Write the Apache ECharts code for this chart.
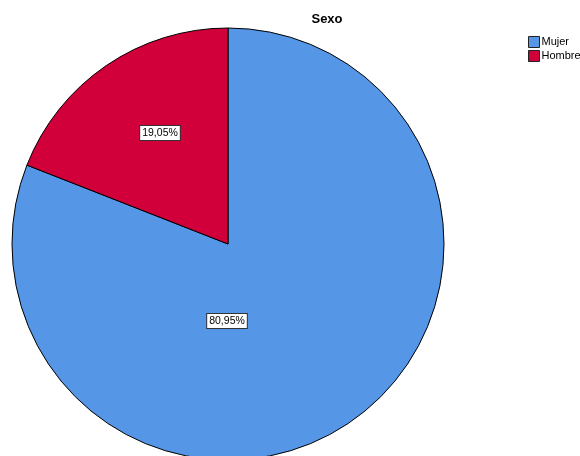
<!DOCTYPE html>
<html>
<head>
<meta charset="utf-8">
<script src="https://cdn.jsdelivr.net/npm/echarts@6/dist/echarts.min.js"></script>
<style>
  html, body { margin: 0; padding: 0; background: #fff; }
  #chart { width: 580px; height: 456px; }
</style>
</head>
<body>
<div id="chart"></div>
<script>
// datos del gráfico
var categorias = ['Mujer', 'Hombre'];
var porcentajes = [80.95, 19.05];
var colores = ['#5596e6', '#d2003a'];

var cx = 228, cy = 244, r = 216;

var chart = echarts.init(document.getElementById('chart'));

var datos = categorias.map(function (c, i) {
  return { name: c, value: porcentajes[i], itemStyle: { color: colores[i] } };
});

chart.setOption({
  animation: false,
  title: {
    text: 'Sexo',
    left: 322,
    top: 8,
    textAlign: 'center',
    textStyle: { fontFamily: 'Liberation Sans', fontSize: 13, fontWeight: 'bold', color: '#000' }
  },
  legend: {
    orient: 'vertical',
    left: 523,
    top: 31,
    itemWidth: 11,
    itemHeight: 11,
    itemGap: 2,
    icon: 'rect',
    itemStyle: { borderColor: '#222', borderWidth: 1 },
    textStyle: { fontFamily: 'Liberation Sans', fontSize: 11, color: '#000', padding: [0, 0, 0, -3] },
    data: categorias
  },
  series: [{
    type: 'pie',
    center: [cx, cy],
    radius: [0, r],
    startAngle: 90,
    clockwise: true,
    data: datos,
    itemStyle: { borderColor: '#000', borderWidth: 1 },
    emphasis: { disabled: true },
    label: {
      position: 'inside',
      formatter: function (p) { return p.value.toFixed(2).replace('.', ',') + '%'; },
      fontFamily: 'Liberation Sans',
      fontSize: 10.5,
      color: '#000',
      backgroundColor: '#fff',
      borderColor: '#333',
      borderWidth: 1,
      padding: [2, 2, 1, 2]
    },
    labelLine: { show: false },
    // SPSS coloca las etiquetas en posiciones propias
    labelLayout: function (p) {
      if (p.dataIndex === 0) return { x: cx - 1, y: cy + 77 };
      return { x: cx - 68, y: cy - 111 };
    }
  }]
});
</script>
</body>
</html>
